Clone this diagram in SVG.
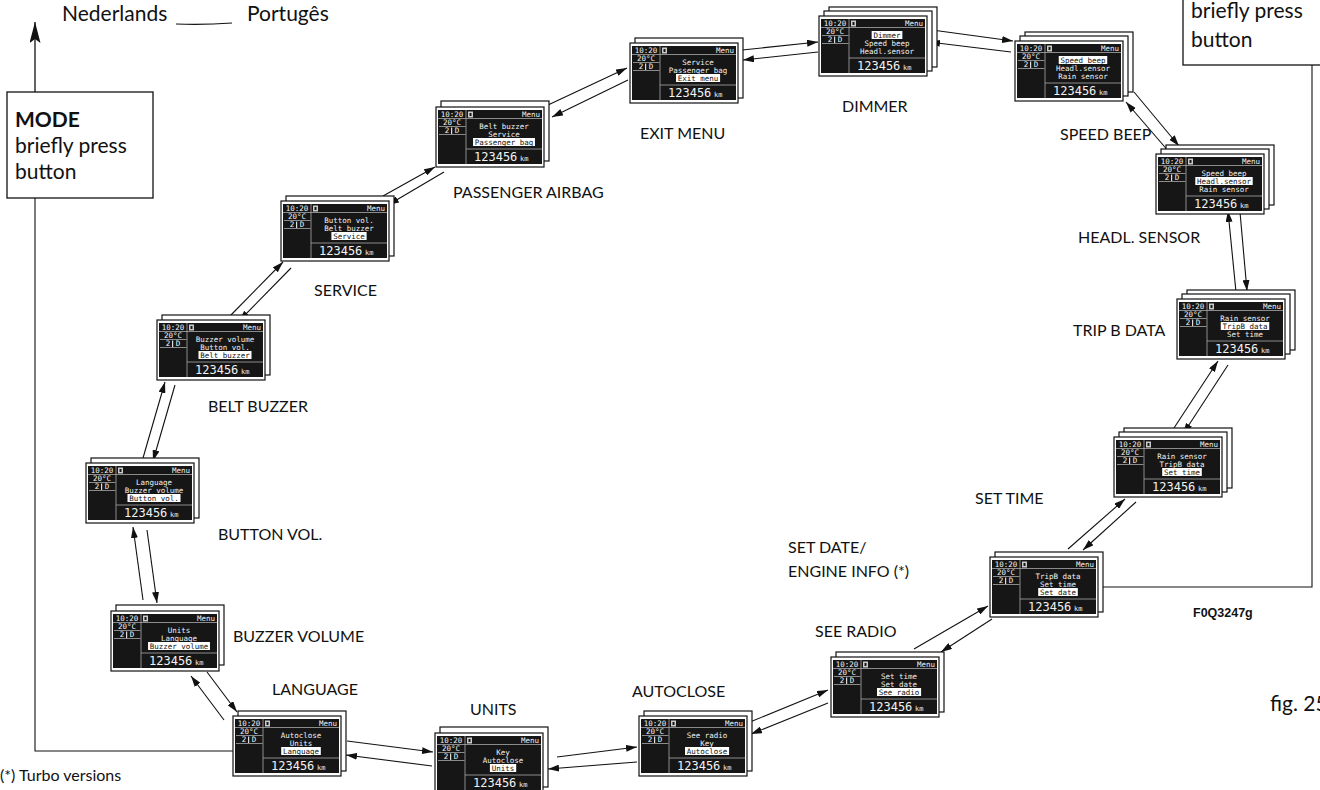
<svg xmlns="http://www.w3.org/2000/svg" xmlns:xlink="http://www.w3.org/1999/xlink" width="1320" height="790" viewBox="0 0 1320 790">
<style>
.lbl{font-family:Lato,"Liberation Sans",sans-serif;font-size:16px;fill:#111}
.big{font-family:Lato,"Liberation Sans",sans-serif;font-size:21px;fill:#111}
.m{font-family:"DejaVu Sans Mono","Liberation Mono",monospace;font-size:7.5px;fill:#f2f2f2;text-anchor:middle}
.m.k{fill:#111}
.hl{fill:#fff}
.card{fill:#fff;stroke:#111;stroke-width:1.2}
.dl{stroke:#aaa;stroke-width:0.8;fill:none}
.c{stroke:#111;stroke-width:1.1;fill:none;marker-end:url(#ah)}
.box{fill:#fff;stroke:#111;stroke-width:1.3}
</style>
<defs>
<marker id="ah" markerUnits="userSpaceOnUse" markerWidth="11" markerHeight="7" refX="11" refY="3.5" orient="auto"><path d="M0,0 L11,3.5 L0,7 z" fill="#111"/></marker>
<marker id="ahb" markerUnits="userSpaceOnUse" markerWidth="21" markerHeight="11" refX="21" refY="5.5" orient="auto"><path d="M0,0 L21,5.5 L0,11 L4,5.5 z" fill="#111"/></marker>
<rect id="cd" class="card" x="0" y="0" width="108" height="60"/>
<g id="frame">
<rect class="card" x="0" y="0" width="108" height="60"/>
<rect x="2" y="3" width="104" height="54" fill="#161616"/>
<path class="dl" d="M2,11.5 H106 M3,19.5 H29.5 M3,27.5 H29.5 M30,3 V57 M30,42 H106"/>
<text class="m" x="16" y="10">10:20</text>
<rect x="32" y="4.5" width="5" height="6" fill="#ccc"/>
<rect x="33.5" y="6" width="2" height="3" fill="#161616"/>
<text class="m" x="104" y="10" style="text-anchor:end">Menu</text>
<text class="m" x="16" y="18">20°C</text>
<text class="m" x="11" y="26">2</text>
<text class="m" x="21" y="26">D</text>
<rect x="15" y="20.5" width="1.2" height="6.5" fill="#ddd"/>
<text x="38" y="54" style="font-family:'DejaVu Sans Mono','Liberation Mono',monospace;font-size:12px;fill:#f2f2f2">123456</text>
<text x="84" y="54" style="font-family:'DejaVu Sans Mono','Liberation Mono',monospace;font-size:7px;fill:#f2f2f2">km</text>
</g>
</defs>

<g id="connectors">
<line class="c" x1="347" y1="741" x2="433" y2="752"/>
<line class="c" x1="432" y1="766" x2="346" y2="755"/>
<line class="c" x1="557" y1="757" x2="637" y2="747"/>
<line class="c" x1="637" y1="762" x2="548" y2="769"/>
<line class="c" x1="750" y1="722" x2="828" y2="690"/>
<line class="c" x1="828" y1="703" x2="751" y2="734"/>
<line class="c" x1="914" y1="649" x2="988" y2="606"/>
<line class="c" x1="992" y1="619" x2="941" y2="652"/>
<line class="c" x1="1068" y1="549" x2="1125" y2="499"/>
<line class="c" x1="1136" y1="502" x2="1083" y2="550"/>
<line class="c" x1="1172" y1="431" x2="1218" y2="361"/>
<line class="c" x1="1228" y1="365" x2="1183" y2="434"/>
<line class="c" x1="1236" y1="292" x2="1228" y2="211"/>
<line class="c" x1="1240" y1="212" x2="1247" y2="291"/>
<line class="c" x1="1134" y1="92" x2="1179" y2="146"/>
<line class="c" x1="1170" y1="153" x2="1126" y2="102"/>
<line class="c" x1="932" y1="30" x2="1013" y2="41"/>
<line class="c" x1="1011" y1="52" x2="929" y2="42"/>
<line class="c" x1="742" y1="50" x2="818" y2="42"/>
<line class="c" x1="818" y1="52" x2="743" y2="60"/>
<line class="c" x1="548" y1="105" x2="627" y2="68"/>
<line class="c" x1="628" y1="80" x2="552" y2="117"/>
<line class="c" x1="383" y1="196" x2="435" y2="167"/>
<line class="c" x1="444" y1="172" x2="388" y2="205"/>
<line class="c" x1="230" y1="316" x2="283" y2="262"/>
<line class="c" x1="291" y1="268" x2="239" y2="321"/>
<line class="c" x1="143" y1="458" x2="165" y2="382"/>
<line class="c" x1="175" y1="385" x2="153" y2="461"/>
<line class="c" x1="147" y1="530" x2="157" y2="603"/>
<line class="c" x1="143" y1="600" x2="133" y2="527"/>
<line class="c" x1="207" y1="672" x2="237" y2="712"/>
<line class="c" x1="224" y1="720" x2="191" y2="676"/>
<path d="M35,198 V751 H233" stroke="#111" stroke-width="1.1" fill="none"/>
<line x1="35" y1="92" x2="35" y2="22" stroke="#111" stroke-width="1.3" marker-end="url(#ahb)"/>
<path d="M1312,65 V587 H1103" stroke="#111" stroke-width="1.1" fill="none"/>
<path d="M176,24 Q204,25 232,23" stroke="#111" stroke-width="1.2" fill="none"/>
</g>

<g id="mode-left">
<rect class="box" x="7" y="92" width="146" height="106"/>
<text class="big" x="15" y="127" style="font-weight:bold">MODE</text>
<text class="big" x="15" y="153">briefly press</text>
<text class="big" x="15" y="179">button</text>
</g>
<g id="mode-right">
<rect class="box" x="1183" y="-20" width="160" height="85"/>
<text class="big" x="1191" y="18">briefly press</text>
<text class="big" x="1191" y="47">button</text>
</g>

<g id="scr-language" transform="translate(233,716)">
<use href="#cd" x="5" y="-5"/><use href="#frame"/>
<text class="m" x="68" y="21.5">Autoclose</text><text class="m" x="68" y="29.5">Units</text>
<rect class="hl" x="48.2" y="31" width="39.6" height="8"/><text class="m k" x="68" y="37.5">Language</text>
</g>
<g id="scr-units" transform="translate(435,733)">
<use href="#cd" x="5" y="-6"/><use href="#frame"/>
<text class="m" x="68" y="21.5">Key</text><text class="m" x="68" y="29.5">Autoclose</text>
<rect class="hl" x="54.9" y="31" width="26.3" height="8"/><text class="m k" x="68" y="37.5">Units</text>
</g>
<g id="scr-autoclose" transform="translate(639,716)">
<use href="#cd" x="5" y="-5"/><use href="#frame"/>
<text class="m" x="68" y="21.5">See radio</text><text class="m" x="68" y="29.5">Key</text>
<rect class="hl" x="46" y="31" width="44.1" height="8"/><text class="m k" x="68" y="37.5">Autoclose</text>
</g>
<g id="scr-seeradio" transform="translate(831,657)">
<use href="#cd" x="5" y="-5"/><use href="#frame"/>
<text class="m" x="68" y="21.5">Set time</text><text class="m" x="68" y="29.5">Set date</text>
<rect class="hl" x="46" y="31" width="44.1" height="8"/><text class="m k" x="68" y="37.5">See radio</text>
</g>
<g id="scr-setdate" transform="translate(990,557)">
<use href="#cd" x="5" y="-5"/><use href="#frame"/>
<text class="m" x="68" y="21.5">TripB data</text><text class="m" x="68" y="29.5">Set time</text>
<rect class="hl" x="48.2" y="31" width="39.6" height="8"/><text class="m k" x="68" y="37.5">Set date</text>
</g>
<g id="scr-settime" transform="translate(1114,437)">
<use href="#cd" x="10" y="-9"/><use href="#cd" x="5" y="-5"/><use href="#frame"/>
<text class="m" x="68" y="21.5">Rain sensor</text><text class="m" x="68" y="29.5">TripB data</text>
<rect class="hl" x="48.2" y="31" width="39.6" height="8"/><text class="m k" x="68" y="37.5">Set time</text>
</g>
<g id="scr-tripb" transform="translate(1177,299)">
<use href="#cd" x="10" y="-9"/><use href="#cd" x="5" y="-5"/><use href="#frame"/>
<text class="m" x="68" y="21.5">Rain sensor</text>
<rect class="hl" x="43.75" y="23" width="48.5" height="8"/><text class="m k" x="68" y="29.5">TripB data</text>
<text class="m" x="68" y="37.5">Set time</text>
</g>
<g id="scr-headl" transform="translate(1156,154)">
<use href="#cd" x="10" y="-9"/><use href="#cd" x="5" y="-5"/><use href="#frame"/>
<text class="m" x="68" y="21.5">Speed beep</text>
<rect class="hl" x="39.3" y="23" width="57.4" height="8"/><text class="m k" x="68" y="29.5">Headl.sensor</text>
<text class="m" x="68" y="37.5">Rain sensor</text>
</g>
<g id="scr-speedbeep" transform="translate(1015,41)">
<use href="#cd" x="10" y="-9"/><use href="#cd" x="5" y="-5"/><use href="#frame"/>
<rect class="hl" x="43.75" y="15" width="48.5" height="8"/><text class="m k" x="68" y="21.5">Speed beep</text>
<text class="m" x="68" y="29.5">Headl.sensor</text>
<text class="m" x="68" y="37.5">Rain sensor</text>
</g>
<g id="scr-dimmer" transform="translate(819,16)">
<use href="#cd" x="10" y="-9"/><use href="#cd" x="5" y="-5"/><use href="#frame"/>
<rect class="hl" x="52.65" y="15" width="30.7" height="8"/><text class="m k" x="68" y="21.5">Dimmer</text>
<text class="m" x="68" y="29.5">Speed beep</text>
<text class="m" x="68" y="37.5">Headl.sensor</text>
</g>
<g id="scr-exitmenu" transform="translate(630,43)">
<use href="#cd" x="5" y="-5"/><use href="#frame"/>
<text class="m" x="68" y="21.5">Service</text><text class="m" x="68" y="29.5">Passenger bag</text>
<rect class="hl" x="46" y="31" width="44.1" height="8"/><text class="m k" x="68" y="37.5">Exit menu</text>
</g>
<g id="scr-passenger" transform="translate(436,107)">
<use href="#cd" x="5" y="-6"/><use href="#frame"/>
<text class="m" x="68" y="21.5">Belt buzzer</text><text class="m" x="68" y="29.5">Service</text>
<rect class="hl" x="37.05" y="31" width="61.9" height="8"/><text class="m k" x="68" y="37.5">Passenger bag</text>
</g>
<g id="scr-service" transform="translate(281,201)">
<use href="#cd" x="5" y="-5"/><use href="#frame"/>
<text class="m" x="68" y="21.5">Button vol.</text><text class="m" x="68" y="29.5">Belt buzzer</text>
<rect class="hl" x="50.4" y="31" width="35.2" height="8"/><text class="m k" x="68" y="37.5">Service</text>
</g>
<g id="scr-beltbuzzer" transform="translate(157,320)">
<use href="#cd" x="5" y="-5"/><use href="#frame"/>
<text class="m" x="68" y="21.5">Buzzer volume</text><text class="m" x="68" y="29.5">Button vol.</text>
<rect class="hl" x="41.5" y="31" width="53" height="8"/><text class="m k" x="68" y="37.5">Belt buzzer</text>
</g>
<g id="scr-buttonvol" transform="translate(86,463)">
<use href="#cd" x="5" y="-5"/><use href="#frame"/>
<text class="m" x="68" y="21.5">Language</text><text class="m" x="68" y="29.5">Buzzer volume</text>
<rect class="hl" x="41.5" y="31" width="53" height="8"/><text class="m k" x="68" y="37.5">Button vol.</text>
</g>
<g id="scr-buzzervol" transform="translate(111,611)">
<use href="#cd" x="5" y="-6"/><use href="#frame"/>
<text class="m" x="68" y="21.5">Units</text><text class="m" x="68" y="29.5">Language</text>
<rect class="hl" x="37.05" y="31" width="61.9" height="8"/><text class="m k" x="68" y="37.5">Buzzer volume</text>
</g>

<g id="labels">
<text class="lbl" x="272" y="695">LANGUAGE</text>
<text class="lbl" x="470" y="715">UNITS</text>
<text class="lbl" x="632" y="697">AUTOCLOSE</text>
<text class="lbl" x="815" y="637">SEE RADIO</text>
<text class="lbl" x="788" y="553">SET DATE/</text>
<text class="lbl" x="788" y="577">ENGINE INFO (*)</text>
<text class="lbl" x="975" y="504">SET TIME</text>
<text class="lbl" x="1073" y="336">TRIP B DATA</text>
<text class="lbl" x="1078" y="243">HEADL. SENSOR</text>
<text class="lbl" x="1060" y="140">SPEED BEEP</text>
<text class="lbl" x="842" y="112">DIMMER</text>
<text class="lbl" x="640" y="139">EXIT MENU</text>
<text class="lbl" x="453" y="198">PASSENGER AIRBAG</text>
<text class="lbl" x="314" y="296">SERVICE</text>
<text class="lbl" x="208" y="412">BELT BUZZER</text>
<text class="lbl" x="218" y="540">BUTTON VOL.</text>
<text class="lbl" x="233" y="642">BUZZER VOLUME</text>
<text class="big" x="62" y="21">Nederlands</text>
<text class="big" x="247" y="21">Portugês</text>
<text class="lbl" x="0" y="781">(*) Turbo versions</text>
<text class="big" x="1270" y="711">fig. 25</text>
<text x="1193" y="617" style="font-family:'Liberation Sans',Arial,sans-serif;font-weight:bold;font-size:12.5px;fill:#111">F0Q3247g</text>
</g>
</svg>
